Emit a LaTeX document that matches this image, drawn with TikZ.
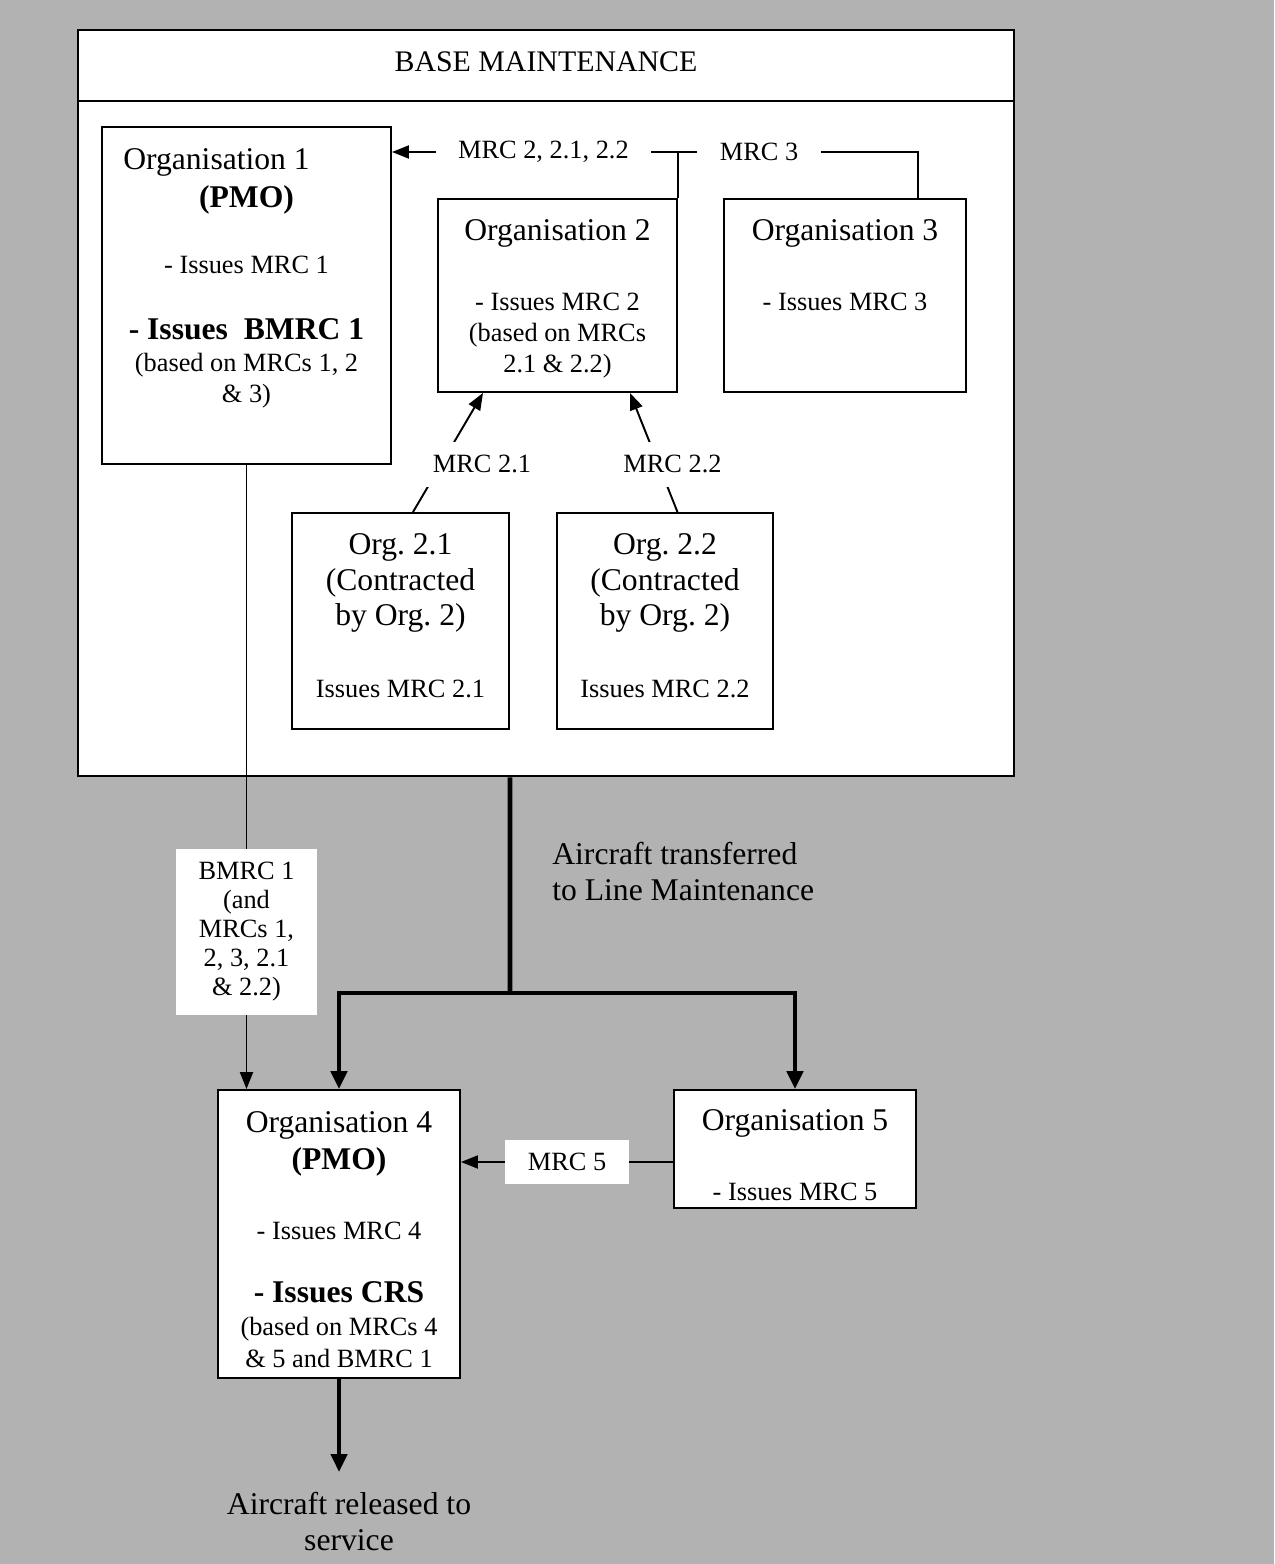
\documentclass[tikz,border=0pt]{standalone}
\usepackage{fontspec}
\setmainfont{Liberation Serif}
\definecolor{ScanGray}{RGB}{178,178,178}
\usetikzlibrary{arrows.meta, positioning}
\newcommand{\namefont}{\fontsize{18}{20}\selectfont}
\newcommand{\titlefont}{\fontsize{17}{20}\selectfont}

\begin{document}
\begin{tikzpicture}[x=0.02cm, y=-0.02cm,
    orgbox/.style={draw, line width=1.1pt, fill=white, inner sep=0pt},
    orgtext/.style={align=center, inner sep=0pt, font=\fontsize{15}{17.5}\selectfont},
    lbl/.style={fill=white, align=center, inner xsep=0.45cm, inner ysep=0.27cm, font=\fontsize{15}{16.5}\selectfont},
    conn/.style={line width=1.1pt},
    arr/.style={conn, -{Triangle[length=0.34cm, width=0.26cm]}},
    bigline/.style={line width=2.8pt},
    bigarr/.style={bigline, -{Triangle[length=0.36cm, width=0.32cm]}}]

    % Page and scanned background
    \useasboundingbox (0,0) rectangle (1274,1564);
    \fill[ScanGray] (0,0) rectangle (1274,1564);

    % Base maintenance frame
    \node[orgbox, line width=1.5pt, minimum width=18.72cm, minimum height=14.92cm] (base) at (546,403) {};
    \node[anchor=base, font=\titlefont] (title) at (546,72) {BASE MAINTENANCE};
    \draw[conn] ([yshift=-1.44cm]base.north west) -- ([yshift=-1.44cm]base.north east);

    % Organisations in base maintenance
    \node[orgbox, minimum width=5.78cm, minimum height=6.74cm] (org1) at (246.5,295.5) {};
    \node[orgbox, minimum width=4.78cm, minimum height=3.86cm] (org2) at (557.5,295.5) {};
    \node[orgbox, minimum width=4.84cm, minimum height=3.86cm] (org3) at (845,295.5) {};
    \node[orgbox, minimum width=4.34cm, minimum height=4.32cm] (org21) at (400.5,621) {};
    \node[orgbox, minimum width=4.32cm, minimum height=4.32cm] (org22) at (665,621) {};

    \node[orgtext, below=0.44cm of org1.north] (org1txt) {\namefont Organisation 1\hspace*{1.2cm}\\[4pt]
        \namefont\bfseries (PMO)\\[20.5pt]
        - Issues MRC 1\\[20pt]
        \namefont\bfseries - Issues\ \ BMRC 1\\[0.7pt]
        (based on MRCs 1, 2\\
        \& 3)};
    \node[orgtext, below=0.43cm of org2.north] (org2txt) {\namefont Organisation 2\\[22.3pt]
        - Issues MRC 2\\
        (based on MRCs\\
        2.1 \& 2.2)};
    \node[orgtext, below=0.43cm of org3.north] (org3txt) {\namefont Organisation 3\\[22.3pt]
        - Issues MRC 3};
    \node[orgtext, below=0.42cm of org21.north] (org21txt) {\namefont Org.\ 2.1\\[3pt]
        \namefont (Contracted\\[2.5pt]
        \namefont by Org.\ 2)\\[23.5pt]
        Issues MRC 2.1};
    \node[orgtext, below=0.42cm of org22.north] (org22txt) {\namefont Org.\ 2.2\\[3pt]
        \namefont (Contracted\\[2.5pt]
        \namefont by Org.\ 2)\\[23.5pt]
        Issues MRC 2.2};

    % Line maintenance organisations
    \node[orgbox, minimum width=4.84cm, minimum height=5.76cm] (org4) at (339,1234) {};
    \node[orgbox, minimum width=4.84cm, minimum height=2.36cm] (org5) at (795,1149) {};

    \node[orgtext, below=0.44cm of org4.north] (org4txt) {\namefont Organisation 4\\[3.6pt]
        \namefont\bfseries (PMO)\\[22.3pt]
        - Issues MRC 4\\[18.3pt]
        \namefont\bfseries - Issues CRS\\[1.3pt]
        (based on MRCs 4\\[0.7pt]
        \& 5 and BMRC 1};
    \node[orgtext, below=0.40cm of org5.north] (org5txt) {\namefont Organisation 5\\[22.3pt]
        - Issues MRC 5};

    % MRCs passed to the PMO
    \coordinate (mrcrow) at (0,152);
    \coordinate (o3up) at ([xshift=1.46cm]org3.north);
    \draw[conn] (org2.north east) -- (org2.north east |- mrcrow);
    \draw[arr] (o3up) |- node[lbl, pos=0.651] (mrc3) {MRC 3}
        node[lbl, pos=0.856] (mrc2) {MRC 2, 2.1, 2.2} (org1.east |- mrcrow);
    \draw[arr] ([xshift=0.25cm]org21.north) -- node[lbl, pos=0.4, xshift=0.82cm] (mrc21) {MRC 2.1} ([xshift=-1.49cm]org2.south);
    \draw[arr] ([xshift=0.25cm]org22.north) -- node[lbl, pos=0.4, xshift=0.28cm] (mrc22) {MRC 2.2} ([xshift=1.45cm]org2.south);

    % BMRC to line maintenance
    \draw[arr] (org1.south) -- node[lbl, pos=0.748] (bmrc) {BMRC 1\\(and\\MRCs 1,\\2, 3, 2.1\\\& 2.2)} (org1.south |- org4.north);

    % Aircraft transfer
    \coordinate (split) at (510,993);
    \draw[bigline] ([xshift=-0.72cm]base.south) -- (split);
    \draw[bigarr] (split) -| (org4.north);
    \draw[bigarr] (split) -| (org5.north);
    \node[anchor=north west, align=left, inner sep=0pt, font=\fontsize{18}{20.5}\selectfont] (transfer) at (552,842) {Aircraft transferred\\to Line Maintenance};

    \coordinate (o5in) at ([yshift=-0.26cm]org5.west);
    \draw[arr] (o5in) -- node[lbl] (mrc5) {MRC 5} (o5in -| org4.east);

    % Release to service
    \node[anchor=north, align=center, inner sep=0pt, font=\fontsize{18}{20.5}\selectfont] (release) at (349,1492) {Aircraft released to\\service};
    \draw[bigarr, shorten >=0.4cm] (org4.south) -- (org4.south |- release.north);
\end{tikzpicture}
\end{document}
